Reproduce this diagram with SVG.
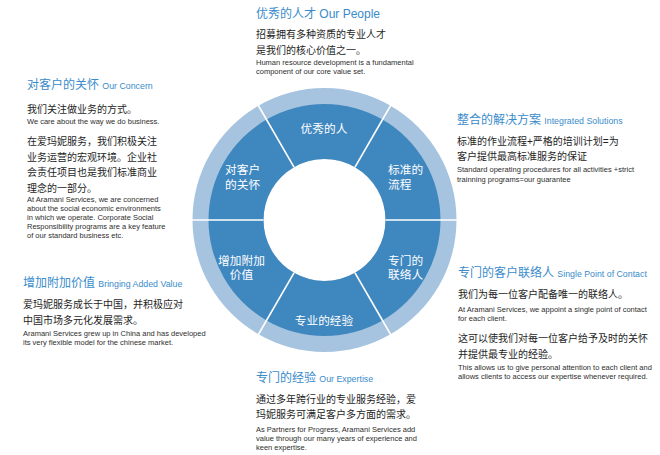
<svg xmlns="http://www.w3.org/2000/svg" width="660" height="455" viewBox="0 0 660 455">
<style>
text{font-family:"Liberation Sans","Noto Sans CJK SC",sans-serif;}
.t{fill:#3a8bcb;font-size:12px;}
.te{fill:#3a8bcb;font-size:8.8px;}
.cn{fill:#1e1e1e;font-size:10px;}
.en{fill:#2e2e2e;font-size:7.5px;}
.lt{fill:#a6c4df;}
.dk{fill:#3f87bf;}
.lb{fill:#ffffff;font-size:11.7px;}
.div{stroke:#ffffff;stroke-width:1.6;}
</style>
<rect width="660" height="455" fill="#ffffff"/>

<g id="seg-people">
<path class="lt" d="M390.5,105.69 A132,132 0 0 0 258.5,105.69 L294,167.17 A61,61 0 0 1 355,167.17 Z"/>
<path class="dk" d="M382.5,119.54 A116,116 0 0 0 266.5,119.54 L294,167.17 A61,61 0 0 1 355,167.17 Z"/>
<text class="lb" x="324" y="133" text-anchor="middle">优秀的人</text>
</g>
<g id="seg-process">
<path class="lt" d="M456.5,220 A132,132 0 0 0 390.5,105.69 L355,167.17 A61,61 0 0 1 385.5,220 Z"/>
<path class="dk" d="M440.5,220 A116,116 0 0 0 382.5,119.54 L355,167.17 A61,61 0 0 1 385.5,220 Z"/>
<text class="lb" x="388" y="173.5">标准的</text>
<text class="lb" x="388" y="188.5">流程</text>
</g>
<g id="seg-contact">
<path class="lt" d="M390.5,334.31 A132,132 0 0 0 456.5,220 L385.5,220 A61,61 0 0 1 355,272.83 Z"/>
<path class="dk" d="M382.5,320.46 A116,116 0 0 0 440.5,220 L385.5,220 A61,61 0 0 1 355,272.83 Z"/>
<text class="lb" x="388" y="264.5">专门的</text>
<text class="lb" x="388" y="279">联络人</text>
</g>
<g id="seg-expertise">
<path class="lt" d="M258.5,334.31 A132,132 0 0 0 390.5,334.31 L355,272.83 A61,61 0 0 1 294,272.83 Z"/>
<path class="dk" d="M266.5,320.46 A116,116 0 0 0 382.5,320.46 L355,272.83 A61,61 0 0 1 294,272.83 Z"/>
<text class="lb" x="324" y="325" text-anchor="middle">专业的经验</text>
</g>
<g id="seg-value">
<path class="lt" d="M192.5,220 A132,132 0 0 0 258.5,334.31 L294,272.83 A61,61 0 0 1 263.5,220 Z"/>
<path class="dk" d="M208.5,220 A116,116 0 0 0 266.5,320.46 L294,272.83 A61,61 0 0 1 263.5,220 Z"/>
<text class="lb" x="241.5" y="264.5" text-anchor="middle">增加附加</text>
<text class="lb" x="241.5" y="279" text-anchor="middle">价值</text>
</g>
<g id="seg-concern">
<path class="lt" d="M258.5,105.69 A132,132 0 0 0 192.5,220 L263.5,220 A61,61 0 0 1 294,167.17 Z"/>
<path class="dk" d="M266.5,119.54 A116,116 0 0 0 208.5,220 L263.5,220 A61,61 0 0 1 294,167.17 Z"/>
<text class="lb" x="225" y="173.5">对客户</text>
<text class="lb" x="225" y="188.5">的关怀</text>
</g>

<g id="dividers">
<line class="div" x1="385.5" y1="220" x2="458" y2="220"/>
<line class="div" x1="263.5" y1="220" x2="191" y2="220"/>
<line class="div" x1="355" y1="167.17" x2="391.5" y2="104"/>
<line class="div" x1="294" y1="167.17" x2="257.5" y2="104"/>
<line class="div" x1="294" y1="272.83" x2="257.5" y2="336"/>
<line class="div" x1="355" y1="272.83" x2="391.5" y2="336"/>
</g>

<g id="text-people">
<text x="256" y="17.5" class="t">优秀的人才 <tspan style="font-size:12px">Our People</tspan></text>
<text x="256" y="38" class="cn">招募拥有多种资质的专业人才</text>
<text x="256" y="53.5" class="cn">是我们的核心价值之一。</text>
<text x="256" y="64.5" class="en">Human resource development is a fundamental</text>
<text x="256" y="73.5" class="en">component of our core value set.</text>
</g>

<g id="text-concern">
<text x="27" y="88.5" class="t">对客户的关怀 <tspan class="te">Our Concern</tspan></text>
<text x="27" y="112.5" class="cn">我们关注做业务的方式。</text>
<text x="27" y="123.5" class="en">We care about the way we do business.</text>
<text x="27" y="145" class="cn">在爱玛妮服务，我们积极关注</text>
<text x="27" y="160.5" class="cn">业务运营的宏观环境。企业社</text>
<text x="27" y="176" class="cn">会责任项目也是我们标准商业</text>
<text x="27" y="191.5" class="cn">理念的一部分。</text>
<text x="27" y="201.5" class="en">At Aramani Services, we are concerned</text>
<text x="27" y="210.5" class="en">about the social economic environments</text>
<text x="27" y="219.5" class="en">in which we operate. Corporate Social</text>
<text x="27" y="228.5" class="en">Responsibility programs are a key feature</text>
<text x="27" y="237.5" class="en">of our standard business etc.</text>
</g>

<g id="text-value">
<text x="23" y="287" class="t">增加附加价值 <tspan class="te">Bringing Added Value</tspan></text>
<text x="23" y="308" class="cn">爱玛妮服务成长于中国，并积极应对</text>
<text x="23" y="323.5" class="cn">中国市场多元化发展需求。</text>
<text x="23" y="335.5" class="en">Aramani Services grew up in China and has developed</text>
<text x="23" y="344.5" class="en">its very flexible model for the chinese market.</text>
</g>

<g id="text-solutions">
<text x="457" y="123.5" class="t">整合的解决方案 <tspan class="te">Integrated Solutions</tspan></text>
<text x="457" y="144.5" class="cn">标准的作业流程+严格的培训计划=为</text>
<text x="457" y="159.5" class="cn">客户提供最高标准服务的保证</text>
<text x="457" y="172" class="en">Standard operating procedures for all activities +strict</text>
<text x="457" y="181.5" class="en">trainning programs=our guarantee</text>
</g>

<g id="text-contact">
<text x="458" y="277" class="t">专门的客户联络人 <tspan class="te">Single Point of Contact</tspan></text>
<text x="458" y="297.5" class="cn">我们为每一位客户配备唯一的联络人。</text>
<text x="458" y="311.5" class="en">At Aramani Services, we appoint a single point of contact</text>
<text x="458" y="320.5" class="en">for each client.</text>
<text x="458" y="342" class="cn">这可以使我们对每一位客户给予及时的关怀</text>
<text x="458" y="357.5" class="cn">并提供最专业的经验。</text>
<text x="458" y="370" class="en">This allows us to give personal attention to each client and</text>
<text x="458" y="379" class="en">allows clients to access our expertise whenever required.</text>
</g>

<g id="text-expertise">
<text x="256" y="382" class="t">专门的经验 <tspan class="te">Our Expertise</tspan></text>
<text x="256" y="402.5" class="cn">通过多年跨行业的专业服务经验，爱</text>
<text x="256" y="418" class="cn">玛妮服务可满足客户多方面的需求。</text>
<text x="256" y="431.5" class="en">As Partners for Progress, Aramani Services add</text>
<text x="256" y="440.5" class="en">value through our many years of experience and</text>
<text x="256" y="449.5" class="en">keen expertise.</text>
</g>
</svg>
